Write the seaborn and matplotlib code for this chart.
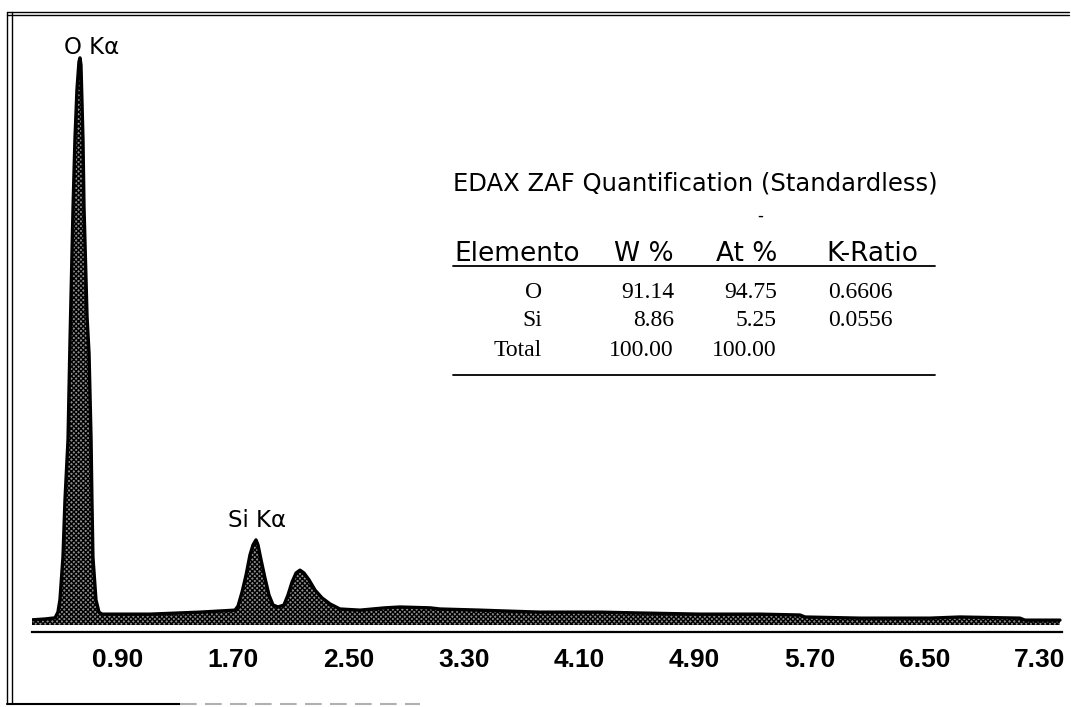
import matplotlib
matplotlib.use("Agg")
import matplotlib.pyplot as plt
import matplotlib.transforms as mtransforms
from matplotlib.lines import Line2D
import seaborn as sns
import pandas as pd

# EDS spectrum (energy in keV, counts)
energy_kev = [0.185, 0.275, 0.345, 0.365, 0.379, 0.400, 0.414, 0.435, 0.449, 0.470,
              0.483, 0.497, 0.511, 0.518, 0.525, 0.539, 0.546, 0.567, 0.581, 0.595,
              0.601, 0.608, 0.629, 0.650, 0.671, 1.004, 1.351, 1.594, 1.615, 1.643,
              1.671, 1.698, 1.719, 1.740, 1.754, 1.775, 1.802, 1.830, 1.858, 1.893,
              1.934, 1.962, 1.990, 2.018, 2.045, 2.073, 2.108, 2.150, 2.198, 2.253,
              2.323, 2.462, 2.635, 2.739, 2.948, 3.017, 3.295, 3.468, 3.711, 4.128,
              4.405, 4.822, 5.238, 5.516, 5.551, 5.933, 6.419, 6.627, 7.043, 7.078,
              7.321]
counts = [18, 21, 25, 45, 88, 238, 438, 648, 998, 1463,
          1698, 1873, 1971, 1985, 1960, 1698, 1463, 1080, 950, 648,
          438, 238, 88, 45, 38, 38, 45, 52, 66, 115,
          175, 245, 280, 298, 280, 228, 165, 105, 70, 63,
          70, 105, 150, 182, 192, 182, 158, 122, 95, 74,
          56, 52, 60, 63, 60, 56, 52, 49, 45, 45,
          42, 38, 38, 35, 28, 24, 24, 28, 24, 17,
          17]

tick_values = [0.90, 1.70, 2.50, 3.30, 4.10, 4.90, 5.70, 6.50, 7.30]
tick_labels = ["0.90", "1.70", "2.50", "3.30", "4.10", "4.90", "5.70", "6.50", "7.30"]

peak_names = ["O K\u03b1", "Si K\u03b1"]
peak_label_x = [0.60, 1.747]
peak_label_y = [2023, 367]

table_title = "EDAX ZAF Quantification (Standardless)"
table_header = ["Elemento", "W %", "At %", "K-Ratio"]
table_elements = ["O", "Si", "Total"]
weight_pct = ["91.14", "8.86", "100.00"]
atomic_pct = ["94.75", "5.25", "100.00"]
k_ratio = ["0.6606", "0.0556", ""]

sns.set_style("white")
plt.rcParams["font.family"] = ["DejaVu Sans"]
plt.rcParams["text.color"] = "black"
plt.rcParams["hatch.linewidth"] = 1.0

W, H = 1071, 707
fig = plt.figure(figsize=(W / 100, H / 100), dpi=100)


def fx(px):
    return px / W


def fy(py):
    return 1 - py / H


ax = fig.add_axes([fx(32), fy(632), fx(1062) - fx(32), fy(40) - fy(632)])

df = pd.DataFrame({"energy": energy_kev, "counts": counts})
ax.fill_between(df["energy"], 0, df["counts"], facecolor="#8f8f8f",
                hatch="xxxxxxx", edgecolor="black", linewidth=0, zorder=1)
sns.lineplot(data=df, x="energy", y="counts", ax=ax, color="black",
             linewidth=2.4, estimator=None, sort=False, zorder=2)

ax.set_xlim(0.185, 7.335)
ax.set_ylim(-24.5, 2047.5)
ax.set_xlabel("")
ax.set_ylabel("")
ax.set_yticks([])
for side in ["top", "right", "left"]:
    ax.spines[side].set_visible(False)
ax.spines["bottom"].set_linewidth(1.6)
ax.spines["bottom"].set_color("black")

ax.set_xticks(tick_values)
ax.set_xticklabels(tick_labels, fontsize=19, fontweight="bold",
                   family=["Liberation Sans", "DejaVu Sans"])
ax.tick_params(axis="x", direction="inout", length=9, width=1.2,
               pad=7, colors="black")
shift = mtransforms.ScaledTranslation(-17 / 100, 0, fig.dpi_scale_trans)
for lab in ax.get_xticklabels():
    lab.set_transform(lab.get_transform() + shift)

for name, x, y in zip(peak_names, peak_label_x, peak_label_y):
    ax.text(x, y, name, ha="center", va="center", fontsize=16.5,
            color="black")

# quantification table
fig.text(fx(453), fy(184), table_title, fontsize=17.5, ha="left", va="center")
fig.text(fx(760), fy(216), "-", fontsize=12, ha="center", va="center")

head_x = [454, 674, 777, 826]
head_ha = ["left", "right", "right", "left"]
for txt, x, ha in zip(table_header, head_x, head_ha):
    fig.text(fx(x), fy(254), txt, fontsize=19, ha=ha, va="center")

row_y = [292, 321, 351]
serif = ["Liberation Serif", "DejaVu Serif"]
for i, y in enumerate(row_y):
    fig.text(fx(542), fy(y), table_elements[i], fontsize=17, ha="right",
             va="center", family=serif)
    fig.text(fx(674), fy(y), weight_pct[i], fontsize=17, ha="right",
             va="center", family=serif)
    fig.text(fx(777), fy(y), atomic_pct[i], fontsize=17, ha="right",
             va="center", family=serif)
    if k_ratio[i]:
        fig.text(fx(828), fy(y), k_ratio[i], fontsize=17, ha="left",
                 va="center", family=serif)

for y in [266, 375]:
    fig.add_artist(Line2D([fx(453), fx(935)], [fy(y), fy(y)],
                          color="black", linewidth=1.3))

# double frame on top and left, partial bottom rule
for y in [11.5, 15]:
    fig.add_artist(Line2D([fx(7), fx(1069)], [fy(y), fy(y)],
                          color="black", linewidth=1.0))
for x in [7, 12]:
    fig.add_artist(Line2D([fx(x), fx(x)], [fy(11.5), fy(704)],
                          color="black", linewidth=1.0))
fig.add_artist(Line2D([fx(7), fx(180)], [fy(704), fy(704)],
                      color="black", linewidth=1.5))
fig.add_artist(Line2D([fx(180), fx(420)], [fy(704), fy(704)],
                      color="#b0b0b0", linewidth=1.5, linestyle=(0, (8, 4))))

fig.savefig("out.png", dpi=100, facecolor="white")
